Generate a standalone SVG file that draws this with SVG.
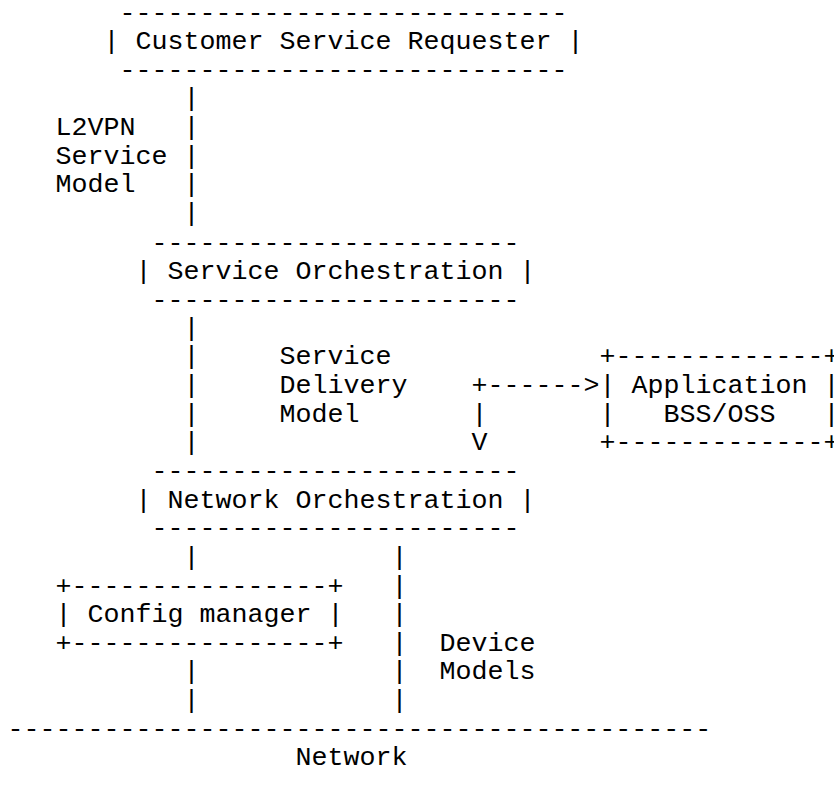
<svg xmlns="http://www.w3.org/2000/svg" width="834" height="785" viewBox="0 0 834 785">
<style>
text { font-family: "Liberation Mono", "Courier New", monospace; font-size: 26.667px; fill: #000; white-space: pre; }
</style>
<rect width="834" height="785" fill="#fff"/>
<g transform="translate(0,2)">
<g id="customer-service-requester">
<text x="119.5" y="18.5">----------------------------</text>
<text x="103.5" y="47.15" xml:space="preserve">| Customer Service Requester |</text>
<text x="119.5" y="75.8">----------------------------</text>
</g>
<g id="service-orchestration">
<text x="151.5" y="248.7">-----------------------</text>
<text x="135.5" y="277.35" xml:space="preserve">| Service Orchestration |</text>
<text x="151.5" y="306">-----------------------</text>
</g>
<g id="application-bss-oss">
<text x="599.5" y="362.3">+-------------+</text>
<text x="599.5" y="390.95" xml:space="preserve">| Application |</text>
<text x="599.5" y="419.6" xml:space="preserve">|   BSS/OSS   |</text>
<text x="599.5" y="448.25">+-------------+</text>
</g>
<g id="network-orchestration">
<text x="151.5" y="476.9">-----------------------</text>
<text x="135.5" y="505.55" xml:space="preserve">| Network Orchestration |</text>
<text x="151.5" y="534.2">-----------------------</text>
</g>
<g id="config-manager">
<text x="55.5" y="591.5">+----------------+</text>
<text x="55.5" y="620.15" xml:space="preserve">| Config manager |</text>
<text x="55.5" y="648.8">+----------------+</text>
</g>
<g id="network">
<text x="7.5" y="734.75">--------------------------------------------</text>
<text x="295.5" y="763.4">Network</text>
</g>
<g id="connectors">
<text x="183.5" y="104.45">|</text>
<text x="183.5" y="133.1">|</text>
<text x="183.5" y="161.75">|</text>
<text x="183.5" y="190.4">|</text>
<text x="183.5" y="219.05">|</text>
<text x="183.5" y="333.65">|</text>
<text x="183.5" y="362.3">|</text>
<text x="183.5" y="390.95">|</text>
<text x="183.5" y="419.6">|</text>
<text x="183.5" y="448.25">|</text>
<text x="471.5" y="390.95">+------&gt;</text>
<text x="471.5" y="419.6">|</text>
<text x="471.5" y="448.25">V</text>
<text x="183.5" y="562.85">|</text>
<text x="183.5" y="677.45">|</text>
<text x="183.5" y="706.1">|</text>
<text x="391.5" y="562.85">|</text>
<text x="391.5" y="591.5">|</text>
<text x="391.5" y="620.15">|</text>
<text x="391.5" y="648.8">|</text>
<text x="391.5" y="677.45">|</text>
<text x="391.5" y="706.1">|</text>
</g>
<g id="labels">
<text x="55.5" y="133.1">L2VPN</text>
<text x="55.5" y="161.75">Service</text>
<text x="55.5" y="190.4">Model</text>
<text x="279.5" y="362.3">Service</text>
<text x="279.5" y="390.95">Delivery</text>
<text x="279.5" y="419.6">Model</text>
<text x="439.5" y="648.8">Device</text>
<text x="439.5" y="677.45">Models</text>
</g>
</g>
</svg>
